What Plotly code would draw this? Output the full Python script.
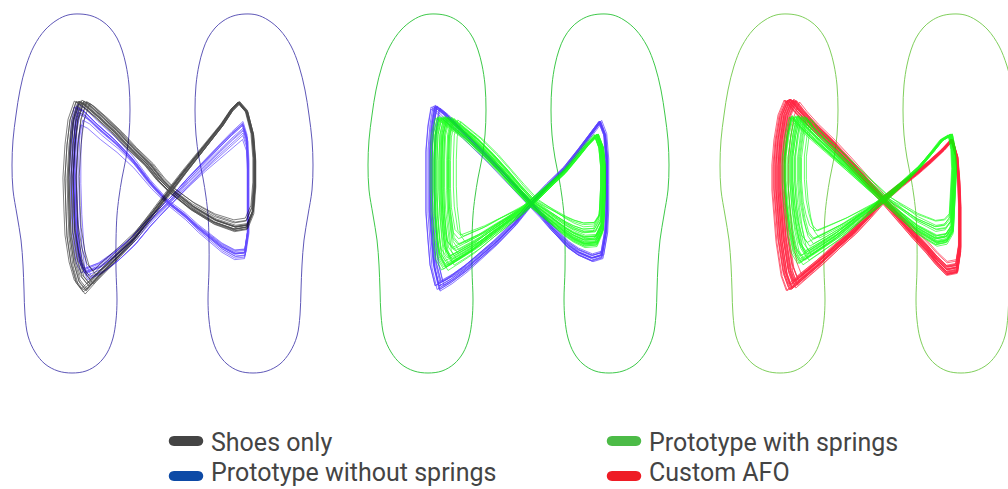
import plotly.graph_objects as go

# Foot outlines (x in mm from panel edge, y in mm from heel)
left_foot_x = [80, 92, 102, 110, 117, 122, 126, 129, 130, 129, 126, 122, 119, 117, 116, 116, 117, 116, 113,
               107, 98, 86, 72, 58, 45, 35, 28, 25, 24, 23, 21, 17, 13, 12, 13, 16, 20, 26, 34, 45, 57, 68, 80]
left_foot_y = [359, 357, 352, 345, 335, 323, 308, 288, 263, 238, 215, 195, 176, 158, 133, 103, 73, 53, 35,
               20, 9, 2, 0, 2, 9, 21, 37, 58, 83, 108, 133, 158, 183, 208, 233, 258, 283, 307, 327, 343, 353, 358, 359]
right_foot_x = [245, 233, 223, 215, 208, 203, 199, 196, 195, 196, 199, 203, 206, 208, 209, 209, 208, 209, 212,
                218, 227, 239, 253, 267, 280, 290, 297, 300, 301, 302, 304, 308, 312, 313, 312, 309, 305, 299, 291, 280, 268, 257, 245]
right_foot_y = left_foot_y

# Mean centre-of-pressure loops per condition, read per panel
p1_shoes_x = [80, 74, 71, 69, 70, 71, 75, 80, 87, 98, 115, 132, 150, 165, 172, 185, 198, 210, 222, 232, 239,
              247, 253, 255, 255, 253, 247, 235, 215, 192, 172, 160, 148, 130, 115, 100, 85, 80]
p1_shoes_y = [271, 253, 228, 195, 163, 138, 111, 93, 84, 96, 113, 131, 155, 176, 185, 202, 218, 233, 248, 263, 270,
              261, 238, 213, 188, 161, 146, 144, 151, 165, 181, 193, 208, 225, 241, 255, 268, 271]
p1_nospring_x = [78, 75, 74, 74, 75, 77, 80, 85, 100, 115, 132, 148, 160, 172, 188, 205, 220, 232, 243,
                 247, 248, 248, 248, 248, 245, 235, 222, 212, 198, 185, 168, 150, 132, 115, 98, 85, 78]
p1_nospring_y = [265, 248, 223, 193, 161, 133, 111, 101, 107, 118, 133, 151, 163, 175, 193, 211, 226, 238, 248,
                 235, 213, 188, 163, 141, 121, 120, 127, 135, 146, 158, 171, 191, 215, 233, 248, 261, 265]
p2_nospring_x = [79, 76, 74, 74, 74, 76, 78, 83, 95, 110, 125, 140, 158, 176, 192, 209, 223, 236, 244,
                 249, 251, 251, 251, 250, 246, 236, 222, 212, 196, 186, 176, 160, 136, 118, 102, 88, 79]
p2_nospring_y = [266, 248, 223, 193, 161, 133, 108, 87, 94, 105, 118, 131, 149, 171, 188, 205, 223, 241, 251,
                 238, 213, 188, 163, 141, 118, 115, 121, 128, 145, 157, 168, 186, 211, 229, 245, 259, 266]
p2_springs_x = [86, 82, 81, 81, 82, 84, 86, 92, 105, 119, 135, 152, 165, 176, 192, 209, 222, 232, 242,
                247, 249, 249, 248, 247, 241, 229, 218, 209, 192, 176, 160, 146, 130, 112, 99, 89, 86]
p2_springs_y = [255, 238, 213, 183, 158, 133, 118, 108, 116, 125, 138, 151, 161, 171, 186, 201, 216, 228, 238,
                225, 205, 185, 163, 145, 131, 130, 135, 141, 155, 168, 185, 201, 218, 235, 245, 253, 255]
p3_afo_x = [82, 76, 72, 70, 70, 72, 74, 79, 84, 98, 112, 128, 145, 160, 175, 192, 209, 222, 235, 244,
            249, 251, 252, 252, 252, 249, 239, 229, 219, 207, 195, 175, 157, 139, 120, 102, 90, 82]
p3_afo_y = [273, 258, 233, 208, 183, 158, 133, 100, 86, 98, 110, 125, 140, 156, 173, 187, 200, 211, 223, 233,
            216, 191, 166, 143, 123, 103, 101, 111, 123, 136, 150, 173, 193, 213, 233, 250, 263, 273]
p3_springs_x = [87, 83, 80, 80, 82, 85, 89, 95, 110, 129, 152, 175, 195, 212, 225, 235, 244,
                247, 248, 247, 246, 245, 239, 229, 219, 209, 192, 175, 158, 142, 123, 105, 94, 87]
p3_springs_y = [256, 238, 216, 191, 166, 143, 123, 113, 123, 136, 155, 173, 190, 206, 221, 233, 238,
                223, 203, 183, 163, 143, 133, 131, 137, 143, 158, 173, 188, 203, 220, 236, 247, 256]

# Trial-to-trial spread: (dx, dy, x scale, upper scale, lower scale)
shoes_trials = [(0, 0, 1.0, 1.0, 1.0), (2, 1, 0.98, 1.0, 0.97), (-2, -1, 1.02, 1.02, 1.02), (1, 2, 0.97, 0.98, 0.9),
                (3, 0, 0.96, 1.0, 0.95), (-1, 1, 1.0, 0.99, 1.03), (0, -2, 1.01, 1.03, 0.99), (2, 3, 0.95, 0.97, 0.85),
                (-3, 0, 1.03, 1.01, 1.0), (1, -1, 0.99, 1.0, 0.93), (4, 2, 0.94, 0.96, 0.88), (0, 1, 1.0, 1.0, 0.96),
                (-1, -1, 1.01, 1.02, 1.04), (2, 0, 0.98, 0.99, 0.91), (1, 1, 0.99, 1.01, 0.98), (-2, 0, 1.02, 1.0, 1.01)]
p1_nospring_trials = [(0, 0, 1.0, 1.0, 1.0), (1, -2, 0.99, 0.95, 1.02), (-1, 1, 1.01, 1.0, 0.97), (2, -3, 0.97, 0.9, 1.04),
                      (0, 2, 1.0, 1.02, 0.98), (-2, 0, 1.02, 1.01, 1.01), (1, -4, 0.98, 0.86, 1.05), (0, -1, 1.0, 0.97, 1.0),
                      (3, -2, 0.96, 0.92, 1.03), (-1, 1, 1.01, 1.01, 0.99), (0, 0, 0.99, 0.99, 1.02), (1, -1, 1.0, 0.96, 0.99)]
p2_nospring_trials = [(0, 0, 1.0, 1.0, 1.0), (1, 1, 0.99, 1.0, 0.97), (-1, -1, 1.01, 1.02, 1.03), (2, 0, 0.98, 0.97, 0.95),
                      (0, -2, 1.0, 1.03, 1.02), (-2, 1, 1.02, 0.99, 1.01), (1, 2, 0.99, 0.98, 0.96), (0, 0, 0.99, 1.01, 1.04),
                      (-1, 2, 1.0, 0.98, 0.99), (2, -1, 0.97, 1.0, 0.98), (1, 0, 1.01, 1.02, 1.0), (0, 1, 0.98, 0.99, 1.02),
                      (-2, -2, 1.02, 1.0, 0.97), (1, -1, 1.0, 1.01, 1.05)]
p2_springs_trials = [(0, 0, 1.0, 1.0, 1.0), (2, 1, 0.97, 0.98, 0.92), (-2, -1, 1.03, 1.02, 1.05), (4, 3, 0.92, 0.95, 0.8),
                     (1, -2, 0.99, 1.04, 0.97), (-3, 0, 1.04, 1.0, 1.08), (3, 2, 0.9, 0.97, 0.7), (0, 1, 0.98, 0.99, 0.88),
                     (5, 4, 0.88, 0.93, 0.6), (-1, -1, 1.02, 1.03, 1.02), (2, 0, 0.95, 1.0, 0.85), (1, 2, 0.96, 0.96, 0.75),
                     (-2, 1, 1.01, 0.98, 0.95), (3, -1, 0.93, 1.02, 0.9), (0, -3, 1.0, 1.05, 1.04), (4, 2, 0.9, 0.94, 0.55),
                     (-1, 0, 1.02, 1.01, 0.98), (2, 3, 0.94, 0.95, 0.82), (1, -1, 0.97, 1.03, 0.94), (-2, 2, 1.03, 0.97, 1.06),
                     (3, 1, 0.92, 0.99, 0.68), (0, 0, 0.96, 1.0, 0.9), (2, -2, 0.95, 1.04, 0.97), (-1, 3, 1.0, 0.96, 0.93),
                     (1, 1, 0.98, 1.0, 0.86), (0, 2, 0.94, 0.98, 0.78), (-1, -2, 1.01, 1.02, 1.0), (2, 1, 0.97, 0.99, 0.96),
                     (6, 5, 0.86, 0.9, 0.72), (3, 4, 0.91, 0.92, 0.64), (-2, 0, 1.0, 1.0, 1.01), (4, 1, 0.93, 0.97, 0.83)]
p3_afo_trials = [(0, 0, 1.0, 1.0, 1.0), (1, 1, 0.99, 0.99, 0.98), (-1, -1, 1.01, 1.01, 1.02), (2, 0, 0.98, 1.0, 0.96),
                 (-2, 1, 1.02, 0.98, 1.01), (0, -2, 1.0, 1.03, 0.99), (1, 2, 0.97, 0.97, 0.95), (-1, 0, 1.02, 1.0, 1.03),
                 (3, 1, 0.96, 0.98, 0.94), (0, 1, 0.99, 1.0, 0.97), (2, -1, 0.98, 1.02, 1.0), (-2, -2, 1.03, 1.02, 1.02),
                 (1, 0, 1.0, 0.99, 0.93), (0, 3, 0.98, 0.96, 0.96), (-1, 2, 1.01, 0.98, 1.0), (2, 2, 0.97, 0.97, 0.9),
                 (1, -1, 0.99, 1.01, 0.99), (-3, 0, 1.03, 1.0, 1.04), (0, -1, 1.0, 1.02, 1.01), (1, 1, 0.98, 0.99, 0.95),
                 (4, 2, 0.94, 0.96, 0.88), (-1, 1, 1.01, 0.99, 0.98), (3, -1, 0.97, 1.01, 0.97), (-2, 2, 1.02, 0.97, 0.99),
                 (0, 0, 1.01, 1.01, 1.03), (2, 1, 0.96, 0.98, 0.92)]
p3_springs_trials = [(0, 0, 1.0, 1.0, 1.0), (2, 1, 0.97, 0.98, 0.92), (-2, -1, 1.02, 1.02, 1.04), (4, 3, 0.92, 0.95, 0.78),
                     (1, -2, 0.99, 1.04, 0.97), (-3, 0, 1.03, 1.0, 1.06), (3, 2, 0.9, 0.97, 0.68), (0, 1, 0.98, 0.99, 0.88),
                     (5, 4, 0.88, 0.93, 0.58), (-1, -1, 1.02, 1.03, 1.02), (2, 0, 0.95, 1.0, 0.85), (1, 2, 0.96, 0.96, 0.74),
                     (-2, 1, 1.01, 0.98, 0.95), (3, -1, 0.93, 1.02, 0.9), (0, -3, 1.0, 1.05, 1.03), (4, 2, 0.9, 0.94, 0.55),
                     (-1, 0, 1.02, 1.01, 0.98), (2, 3, 0.94, 0.95, 0.82), (1, -1, 0.97, 1.03, 0.94), (-2, 2, 1.02, 0.97, 1.05),
                     (3, 1, 0.92, 0.99, 0.66), (0, 0, 0.96, 1.0, 0.9), (2, -2, 0.95, 1.04, 0.97), (1, 1, 0.98, 1.0, 0.86),
                     (6, 4, 0.87, 0.91, 0.7), (-1, 2, 1.01, 0.97, 0.96)]

legend_names = ["Shoes only", "Prototype without springs", "Prototype with springs", "Custom AFO"]
legend_colors = ["#444444", "#0d4aa6", "#4cbb47", "#ee1c25"]


def bundle(xs, ys, cross, trials):
    # stack every trial of a condition into one trace, split by None
    cx, cy = cross
    bx, by = [], []
    for dx, dy, sx, st, sb in trials:
        bx += [cx + (x - cx) * sx + dx for x in xs] + [None]
        by += [cy + (y - cy) * (st if y >= cy else sb) + dy for y in ys] + [None]
    return bx, by


fig = go.Figure()


def add_feet(n, color):
    for fx, fy in [(left_foot_x, left_foot_y), (right_foot_x, right_foot_y)]:
        fig.add_trace(go.Scatter(x=fx, y=fy, mode="lines", line=dict(color=color, width=1, shape="spline"),
                                 showlegend=False, hoverinfo="skip",
                                 xaxis="x" + n, yaxis="y" + n))


def add_bundle(n, xs, ys, cross, trials, color, op):
    bx, by = bundle(xs, ys, cross, trials)
    fig.add_trace(go.Scatter(x=bx, y=by, mode="lines", line=dict(color=color, width=0.7),
                             opacity=op, showlegend=False, hoverinfo="skip",
                             xaxis="x" + n, yaxis="y" + n))


# Panel 1: shoes only vs prototype without springs
add_feet("", "#5f58b8")
add_bundle("", p1_nospring_x, p1_nospring_y, (170, 173), p1_nospring_trials, "#3010ff", 0.75)
add_bundle("", p1_shoes_x, p1_shoes_y, (172, 185), shoes_trials, "#000000", 0.7)

# Panel 2: prototype without springs vs with springs
add_feet("2", "#3ec94a")
add_bundle("2", p2_nospring_x, p2_nospring_y, (176, 169), p2_nospring_trials, "#3010ff", 0.8)
add_bundle("2", p2_springs_x, p2_springs_y, (176, 170), p2_springs_trials, "#00ff00", 0.85)

# Panel 3: custom AFO vs prototype with springs
add_feet("3", "#80cf5c")
add_bundle("3", p3_afo_x, p3_afo_y, (175, 173), p3_afo_trials, "#ff0022", 0.85)
add_bundle("3", p3_springs_x, p3_springs_y, (175, 173), p3_springs_trials, "#00ff00", 0.85)

W, H = 1008, 489
ax = dict(visible=False, fixedrange=True)

# Legend drawn as rounded swatches plus text, two columns of two rows
shapes, annotations = [], []
for i, (name, col) in enumerate(zip(legend_names, legend_colors)):
    x0 = 169 if i < 2 else 607
    yc = 441 if i % 2 == 0 else 476
    x1, r = x0 + 34, 5
    pts = [("M", x0 + r, yc - r), ("L", x1 - r, yc - r), ("C", x1 + 2, yc - r), ("", x1 + 2, yc + r), ("", x1 - r, yc + r),
           ("L", x0 + r, yc + r), ("C", x0 - 2, yc + r), ("", x0 - 2, yc - r), ("", x0 + r, yc - r)]
    path = " ".join(f"{c}{px / W:.5f},{1 - py / H:.5f}" for c, px, py in pts) + " Z"
    shapes.append(dict(type="path", xref="paper", yref="paper", path=path,
                       fillcolor=col, line=dict(width=0)))
    # text box must stay inside the figure, so the lower row sits on the bottom edge
    ty, anchor = ((1 - (yc + 1) / H), "middle") if i % 2 == 0 else (1 / H, "bottom")
    annotations.append(dict(x=(x1 + 7) / W, y=ty, xref="paper", yref="paper", borderpad=0,
                            xanchor="left", yanchor=anchor, showarrow=False, text=name,
                            font=dict(family="Roboto, Lato, sans-serif", size=25, color="#444444")))

fig.update_layout(
    width=W, height=H,
    margin=dict(l=0, r=0, t=0, b=0),
    paper_bgcolor="white", plot_bgcolor="white",
    showlegend=False,
    xaxis=dict(ax, domain=[0, 352 / W], range=[0, 352]),
    xaxis2=dict(ax, domain=[356 / W, 708 / W], range=[0, 352]),
    xaxis3=dict(ax, domain=[708 / W, 1], range=[0, 300]),
    yaxis=dict(ax, domain=[1 - 390 / H, 1], range=[-17, 373]),
    yaxis2=dict(ax, domain=[1 - 390 / H, 1], range=[-17, 373]),
    yaxis3=dict(ax, domain=[1 - 390 / H, 1], range=[-17, 373]),
    shapes=shapes,
    annotations=annotations,
)

fig.write_html("out.html", config={"displayModeBar": False},
               post_script="document.body.style.margin='0';")
